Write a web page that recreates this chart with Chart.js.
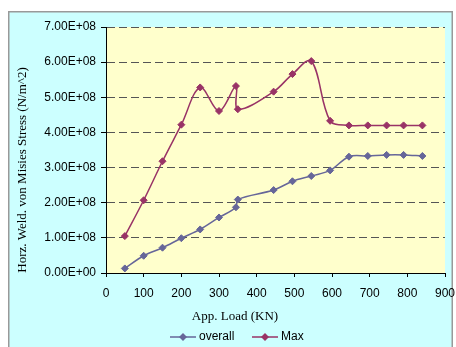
<!DOCTYPE html>
<html>
<head>
<meta charset="utf-8">
<title>Horz. Weld. von Misies Stress</title>
<script src="https://cdn.jsdelivr.net/npm/chart.js@4/dist/chart.umd.min.js"></script>
<style>
  html, body { margin: 0; padding: 0; background: #ffffff; }
  #wrap { position: relative; width: 456px; height: 347px; }
</style>
</head>
<body>
<div id="wrap"><canvas id="c" width="456" height="347"></canvas></div>
<script>
// Applied load (KN)
const loads = [50, 100, 150, 200, 250, 300, 345, 350, 445, 495, 545, 595, 645, 695, 745, 790, 840];
// Stress over the whole weld (N/m^2)
const overall = [0.13e8, 0.49e8, 0.72e8, 0.99e8, 1.24e8, 1.58e8, 1.87e8, 2.09e8, 2.36e8, 2.61e8, 2.76e8, 2.92e8, 3.31e8, 3.33e8, 3.36e8, 3.36e8, 3.33e8];
// Peak stress (N/m^2)
const maxStress = [1.05e8, 2.07e8, 3.18e8, 4.22e8, 5.28e8, 4.61e8, 5.32e8, 4.66e8, 5.16e8, 5.66e8, 6.03e8, 4.33e8, 4.20e8, 4.20e8, 4.20e8, 4.20e8, 4.20e8];

const seriesNames = ['overall', 'Max'];
const seriesColors = ['#666699', '#993366'];
const xTitle = 'App. Load (KN)';
const yTitle = 'Horz. Weld. von Misies Stress (N/m^2)';

const sansFont = "'Liberation Sans', Arial, sans-serif";
const serifFont = "'Liberation Serif', 'Times New Roman', serif";

// 7.00E+08 style labels
function sci(v) {
  if (v === 0) return '0.00E+00';
  const e = Math.floor(Math.log10(Math.abs(v)) + 1e-9);
  const m = v / Math.pow(10, e);
  const sign = e < 0 ? '-' : '+';
  return m.toFixed(2) + 'E' + sign + String(Math.abs(e)).padStart(2, '0');
}

function toPoints(xs, ys) {
  return xs.map((x, i) => ({ x: x, y: ys[i] }));
}

// Frame, plot background, axis titles and legend
const decor = {
  id: 'decor',
  beforeDraw(chart) {
    const ctx = chart.ctx;
    const a = chart.chartArea;
    ctx.save();
    ctx.fillStyle = '#ffffff';
    ctx.fillRect(0, 0, chart.width, chart.height);
    ctx.fillStyle = '#ccffff';
    ctx.fillRect(8, 11, 445, 340);
    ctx.strokeStyle = '#999999';
    ctx.lineWidth = 1.5;
    ctx.beginPath();
    ctx.moveTo(8.75, 352);
    ctx.lineTo(8.75, 11.75);
    ctx.lineTo(452.25, 11.75);
    ctx.lineTo(452.25, 352);
    ctx.stroke();
    ctx.fillStyle = '#ffffcc';
    ctx.fillRect(a.left, a.top, a.right - a.left, a.bottom - a.top);
    ctx.restore();
  },
  afterDraw(chart) {
    const ctx = chart.ctx;
    ctx.save();
    ctx.fillStyle = '#000000';
    ctx.font = '13px ' + serifFont;
    ctx.textAlign = 'center';
    ctx.textBaseline = 'middle';
    ctx.fillText(xTitle, 235, 317);
    ctx.save();
    ctx.translate(23, 170);
    ctx.rotate(-Math.PI / 2);
    ctx.fillText(yTitle, 0, 0);
    ctx.restore();

    // legend entries: line with diamond marker, then name
    const starts = [170, 252];
    const ly = 337;
    ctx.font = '12px ' + sansFont;
    ctx.textAlign = 'left';
    chart.data.datasets.forEach((ds, i) => {
      const x0 = starts[i];
      ctx.strokeStyle = ds.borderColor;
      ctx.lineWidth = 1.5;
      ctx.beginPath();
      ctx.moveTo(x0, ly);
      ctx.lineTo(x0 + 26, ly);
      ctx.stroke();
      ctx.fillStyle = ds.pointBackgroundColor;
      ctx.beginPath();
      ctx.moveTo(x0 + 13, ly - 4);
      ctx.lineTo(x0 + 17, ly);
      ctx.lineTo(x0 + 13, ly + 4);
      ctx.lineTo(x0 + 9, ly);
      ctx.closePath();
      ctx.fill();
      ctx.fillStyle = '#000000';
      ctx.fillText(ds.label, x0 + 29, ly);
    });
    ctx.restore();
  }
};

function makeDataset(name, color, ys) {
  return {
    label: name,
    data: toPoints(loads, ys),
    borderColor: color,
    backgroundColor: color,
    pointBackgroundColor: color,
    pointBorderColor: color,
    pointStyle: 'rectRot',
    pointRadius: 3.5,
    pointBorderWidth: 1,
    borderWidth: 1.5,
    tension: 0.35,
    fill: false
  };
}

new Chart(document.getElementById('c'), {
  type: 'line',
  data: {
    datasets: [
      makeDataset(seriesNames[0], seriesColors[0], overall),
      makeDataset(seriesNames[1], seriesColors[1], maxStress)
    ]
  },
  options: {
    responsive: false,
    animation: false,
    devicePixelRatio: 1,
    layout: { padding: { top: 27, right: 11, left: 0, bottom: 0 } },
    plugins: {
      legend: { display: false },
      tooltip: { enabled: false }
    },
    scales: {
      x: {
        type: 'linear',
        min: 0,
        max: 900,
        afterFit(scale) {
          scale.height = 74;
          scale.paddingLeft = 0;
          scale.paddingRight = 0;
        },
        ticks: {
          stepSize: 100,
          color: '#000000',
          font: { family: sansFont, size: 12 },
          padding: 9,
          maxRotation: 0
        },
        grid: {
          drawOnChartArea: false,
          drawTicks: true,
          tickLength: 4,
          tickColor: '#000000',
          tickWidth: 1
        },
        border: { color: '#000000', width: 1 }
      },
      y: {
        type: 'linear',
        min: 0,
        max: 7e8,
        afterFit(scale) {
          scale.width = 106;
          scale.paddingTop = 0;
          scale.paddingBottom = 0;
        },
        ticks: {
          stepSize: 1e8,
          color: '#000000',
          font: { family: sansFont, size: 12 },
          padding: 5,
          callback: (v) => sci(v)
        },
        grid: {
          color: '#555555',
          lineWidth: 1,
          drawTicks: true,
          tickLength: 5,
          tickColor: '#000000',
          tickWidth: 1,
          tickBorderDash: []
        },
        border: { color: '#000000', width: 1, dash: [8, 4] }
      }
    }
  },
  plugins: [decor]
});
</script>
</body>
</html>
